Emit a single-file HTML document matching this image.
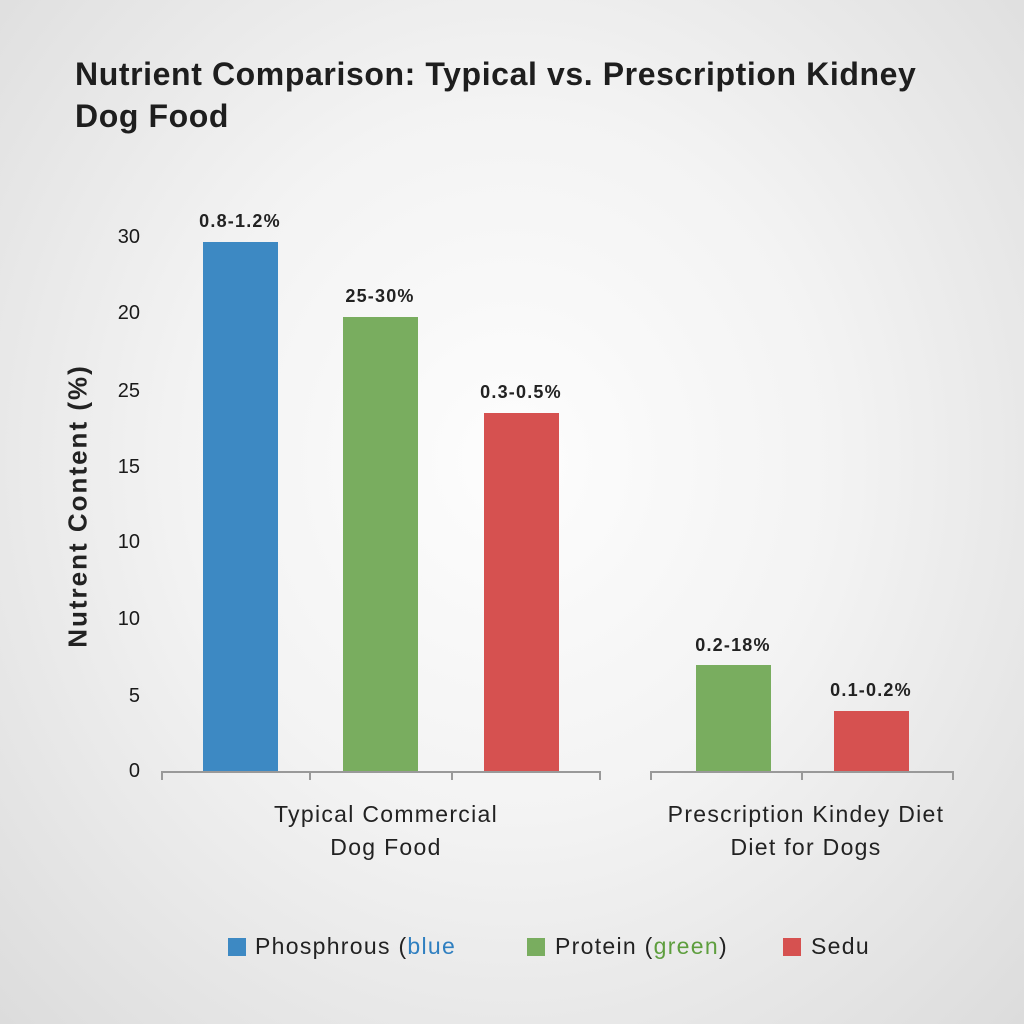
<!DOCTYPE html>
<html><head><meta charset="utf-8"><style>
html,body{margin:0;padding:0}
body{width:1024px;height:1024px;overflow:hidden;background:radial-gradient(ellipse at 50% 45%,#fdfdfd 0%,#f3f3f3 45%,#dcdcdc 100%);font-family:"Liberation Sans",sans-serif;position:relative;color:#1a1a1a}
.a{position:absolute;white-space:nowrap}
.t{left:75px;font-size:32px;font-weight:bold;color:#1e1e1e;letter-spacing:0.6px}
.yt{font-size:20px;width:40px;text-align:right;left:100px}
.bar{position:absolute;width:75px;bottom:252px}
.bl{font-size:18px;font-weight:bold;width:160px;text-align:center;color:#222;letter-spacing:1.2px}
.cat{font-size:23px;text-align:center;width:360px;color:#222;letter-spacing:1.3px}
.lg{top:933px;font-size:23px;color:#222;letter-spacing:1.3px}
.sq{position:absolute;top:938px;width:18px;height:18px}
</style></head><body>
<div class="a t" style="top:56px">Nutrient Comparison: Typical vs. Prescription Kidney</div>
<div class="a t" style="top:98px">Dog Food</div>

<div class="a yt" style="top:226px">30</div>
<div class="a yt" style="top:302px">20</div>
<div class="a yt" style="top:380px">25</div>
<div class="a yt" style="top:456px">15</div>
<div class="a yt" style="top:531px">10</div>
<div class="a yt" style="top:608px">10</div>
<div class="a yt" style="top:685px">5</div>
<div class="a yt" style="top:760px">0</div>

<div class="a" style="left:78px;top:506px;transform:translate(-50%,-50%) rotate(-90deg);font-size:26px;font-weight:bold;color:#222;letter-spacing:2px">Nutrent Content (%)</div>

<div class="bar" style="left:203px;height:530px;background:#3d89c3"></div>
<div class="bar" style="left:343px;height:455px;background:#79ad5f"></div>
<div class="bar" style="left:484px;height:359px;background:#d65150"></div>
<div class="bar" style="left:696px;height:107px;background:#79ad5f"></div>
<div class="bar" style="left:834px;height:61px;background:#d65150"></div>

<div class="a bl" style="left:160px;top:211px">0.8-1.2%</div>
<div class="a bl" style="left:300px;top:286px">25-30%</div>
<div class="a bl" style="left:441px;top:382px">0.3-0.5%</div>
<div class="a bl" style="left:653px;top:635px">0.2-18%</div>
<div class="a bl" style="left:791px;top:680px">0.1-0.2%</div>

<svg class="a" style="left:0;top:0" width="1024" height="1024">
<g stroke="#999" stroke-width="2" fill="none">
<path d="M162 780V772H600V780M310 772V780M452 772V780"/>
<path d="M651 780V772H953V780M802 772V780"/>
</g></svg>

<div class="a cat" style="left:206px;top:801px">Typical Commercial</div>
<div class="a cat" style="left:206px;top:834px">Dog Food</div>
<div class="a cat" style="left:626px;top:801px">Prescription Kindey Diet</div>
<div class="a cat" style="left:626px;top:834px">Diet for Dogs</div>

<div class="sq" style="left:228px;background:#3d89c3"></div>
<div class="a lg" style="left:255px">Phosphrous (<span style="color:#2f7fc0">blue</span></div>
<div class="sq" style="left:527px;background:#79ad5f"></div>
<div class="a lg" style="left:555px">Protein (<span style="color:#5e9e3e">green</span>)</div>
<div class="sq" style="left:783px;background:#d65150"></div>
<div class="a lg" style="left:811px">Sedu</div>
</body></html>
